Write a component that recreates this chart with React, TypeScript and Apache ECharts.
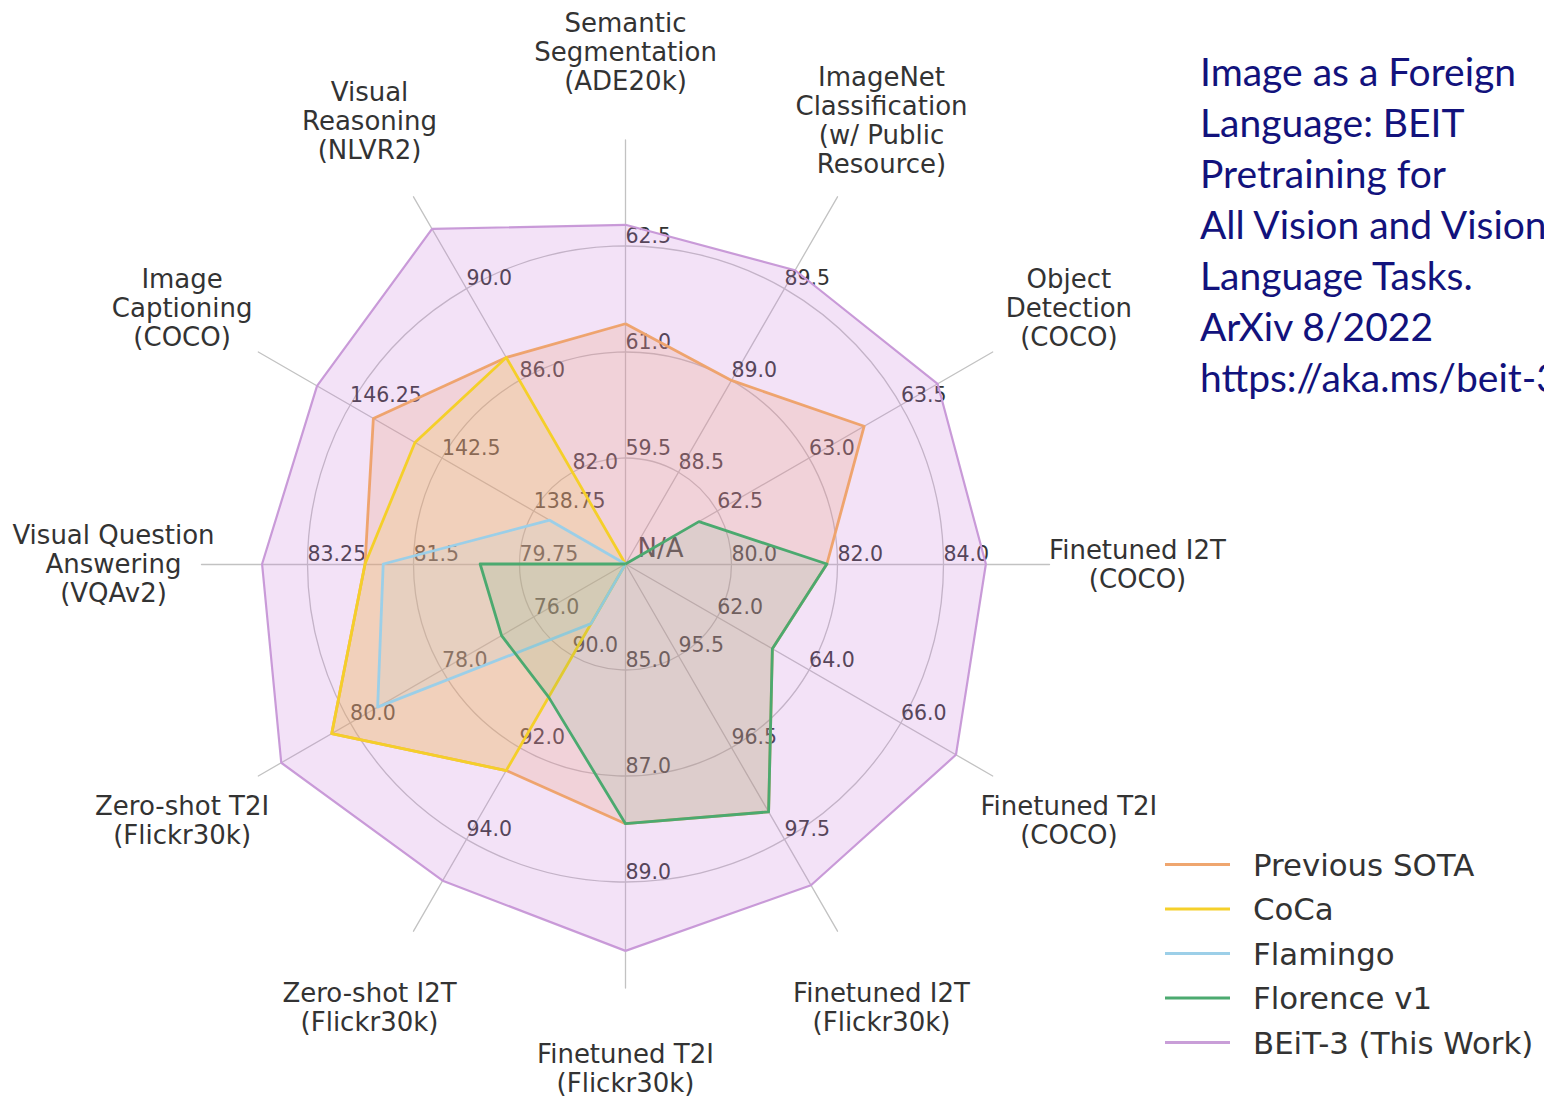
import React, { useEffect, useRef } from 'react';
import * as echarts from 'echarts';

// Radar axes in ECharts order (counter-clockwise, starting at the top)
const indicatorNames = [
  'Semantic\nSegmentation\n(ADE20k)',
  'Visual\nReasoning\n(NLVR2)',
  'Image\nCaptioning\n(COCO)',
  'Visual Question\nAnswering\n(VQAv2)',
  'Zero-shot T2I\n(Flickr30k)',
  'Zero-shot I2T\n(Flickr30k)',
  'Finetuned T2I\n(Flickr30k)',
  'Finetuned I2T\n(Flickr30k)',
  'Finetuned T2I\n(COCO)',
  'Finetuned I2T\n(COCO)',
  'Object\nDetection\n(COCO)',
  'ImageNet\nClassification\n(w/ Public\nResource)',
];
const axisMin = [58, 78, 135, 78, 74, 88, 83, 94.5, 60, 78, 62, 88];
const axisMax = [64, 94, 150, 85, 82, 96, 91, 98.5, 68, 86, 64, 90];
const centerLabel = 'N/A';

const seriesNames = ['Previous SOTA', 'CoCa', 'Flamingo', 'Florence v1', 'BEiT-3 (This Work)'];
// null = N/A (drawn at the centre)
const previousSota = [61.4, 87.0, 145.3, 82.3, 80.4, 92.5, 87.9, 97.2, 63.2, 81.8, 63.3, 89.0];
const coca = [null, 87.0, 143.6, 82.3, 80.4, 92.5, null, null, null, null, null, null];
const flamingo = [null, null, 138.1, 82.0, 79.4, 89.3, null, null, null, null, null, null];
const florence = [null, null, null, 80.4, 76.7, 90.9, 87.9, 97.2, 63.2, 81.8, 62.4, null];
const beit3 = [62.8, 92.6, 147.6, 84.0, 81.5, 94.9, 90.3, 98.0, 67.2, 84.8, 63.7, 89.6];

const titleText =
  'Image as a Foreign\nLanguage: BEIT\nPretraining for\nAll Vision and Vision-\nLanguage Tasks.\nArXiv 8/2022\nhttps://aka.ms/beit-3';

const lineColors = ['#efa66f', '#f5d02a', '#9ccfe8', '#4caa70', '#c99ed8'];
const areaColors = [
  'rgba(238,150,110,0.3)',
  'rgba(245,200,40,0.24)',
  'rgba(150,205,235,0.15)',
  'rgba(74,169,108,0.16)',
  'rgba(205,130,220,0.33)',
];

const fmt = (v: number) =>
  Math.abs(v * 10 - Math.round(v * 10)) < 1e-6 ? v.toFixed(1) : v.toFixed(2);

export default function App() {
  const ref = useRef<HTMLDivElement>(null);
  useEffect(() => {
    if (!ref.current) return;
    const chart = echarts.init(ref.current, null, { renderer: 'svg' });
    const allValues = [previousSota, coca, flamingo, florence, beit3];
    const fill = (vals: (number | null)[]) => vals.map((v, i) => (v == null ? axisMin[i] : v));
    const drawOrder = [4, 0, 1, 2, 3];
    const gridColor = '#c2c2c2';
    chart.setOption({
      animation: false,
      backgroundColor: '#ffffff',
      legend: {
        data: seriesNames,
        orient: 'vertical',
        left: 1160,
        top: 844,
        itemWidth: 65,
        itemHeight: 3,
        itemGap: 13.5,
        icon: 'rect',
        textStyle: {
          fontFamily: 'DejaVu Sans',
          fontSize: 30.8,
          lineHeight: 31,
          color: '#333333',
          padding: [0, 0, 0, 18],
        },
      },
      graphic: [
        {
          type: 'text',
          left: 1200,
          top: 45,
          style: {
            text: titleText,
            font: '39px Lato',
            fill: '#12127c',
            lineHeight: 51,
          },
        },
      ],
      radar: {
        center: [625.5, 564],
        radius: 424,
        shape: 'circle',
        splitNumber: 4,
        nameGap: 88,
        axisName: {
          color: '#333333',
          fontFamily: 'DejaVu Sans',
          fontSize: 26,
          lineHeight: 29,
          align: 'center',
          verticalAlign: 'middle',
          padding: [0, 0, 4, 0],
        },
        axisLine: { show: true, lineStyle: { color: gridColor, width: 1.3 } },
        axisTick: { show: false },
        splitArea: { show: false },
        splitLine: {
          show: true,
          lineStyle: {
            color: ['rgba(0,0,0,0)', gridColor, gridColor, gridColor, 'rgba(0,0,0,0)'],
            width: 1.3,
          },
        },
        axisLabel: {
          show: true,
          margin: 0,
          color: '#333333',
          fontFamily: 'DejaVu Sans',
          fontSize: 20.5,
          align: 'left',
          verticalAlign: 'bottom',
        },
        indicator: indicatorNames.map((name, i) => ({
          name,
          min: axisMin[i],
          max: axisMax[i],
          ...(i === 6 ? { nameGap: 80 } : {}),
          axisLabel: {
            formatter: (v: number) => {
              if (Math.abs(v - axisMin[i]) < 1e-9) return i === 0 ? '{na|' + centerLabel + '}' : '';
              if (Math.abs(v - axisMax[i]) < 1e-9) return '';
              return fmt(v);
            },
            rich: {
              na: {
                fontFamily: 'DejaVu Sans',
                fontSize: 26,
                color: '#333333',
                padding: [0, 0, 3, 12],
              },
            },
          },
        })),
      },
      series: [
        {
          type: 'radar',
          symbol: 'none',
          data: drawOrder.map((k) => ({
            name: seriesNames[k],
            value: fill(allValues[k]),
            itemStyle: { color: lineColors[k] },
            lineStyle: { color: lineColors[k], width: k === 4 ? 2.2 : 2.8 },
            areaStyle: { color: areaColors[k] },
          })),
        },
      ],
    });
    return () => chart.dispose();
  }, []);
  return (
    <div
      ref={ref}
      style={{ position: 'fixed', left: 0, top: 0, width: 1544, height: 1099 }}
    />
  );
}
